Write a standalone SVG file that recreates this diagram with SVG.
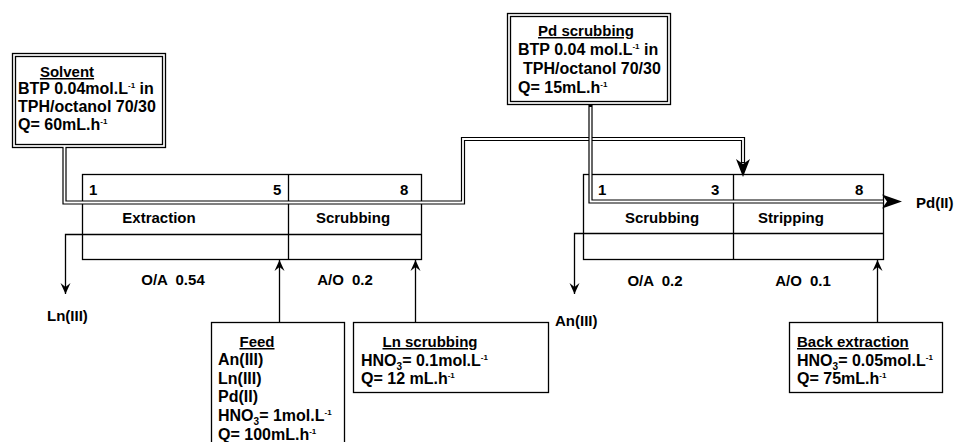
<svg xmlns="http://www.w3.org/2000/svg" width="956" height="442" viewBox="0 0 956 442">
<defs>
<style>
text{font-family:"Liberation Sans",Arial,sans-serif;font-weight:bold;font-size:15px;fill:#000}
.b{font-size:16px}
.u{text-decoration:underline}
.m{text-anchor:middle}
.ws{word-spacing:4px}
.box{fill:#fff;stroke:#000;stroke-width:1.3}
.thin{fill:none;stroke:#000;stroke-width:1.3}
.dblo{fill:none;stroke:#000;stroke-width:4.2;stroke-linejoin:miter}
.dbli{fill:none;stroke:#fff;stroke-width:1.8;stroke-linejoin:miter}
.sup{font-size:8px}
.sub{font-size:10px}
</style>
<marker id="big" markerUnits="userSpaceOnUse" markerWidth="24" markerHeight="16" viewBox="-4 -8 24 16" refX="0" refY="0" orient="auto" overflow="visible">
<path d="M-2,-7 L18,0 L-2,7 L3,0 Z" fill="#000"/>
</marker>
<marker id="sm" markerUnits="userSpaceOnUse" markerWidth="14" markerHeight="12" viewBox="-12 -6 14 12" refX="0" refY="0" orient="auto" overflow="visible">
<path d="M0,0 L-11,-5 L-7,0 L-11,5 Z" fill="#000"/>
</marker>
</defs>
<rect width="956" height="442" fill="#fff"/>

<g id="settler-left">
<rect class="box" x="82.5" y="174.5" width="339" height="85"/>
<path class="thin" d="M288.5,174.5 V259.5 M82.5,234.5 H421.5"/>
<text x="89" y="195">1</text>
<text x="273" y="195">5</text>
<text x="400" y="195">8</text>
<text class="m" x="159" y="223">Extraction</text>
<text class="m" x="353" y="223">Scrubbing</text>
<text class="m ws" x="173" y="285">O/A 0.54</text>
<text class="m ws" x="345" y="285">A/O 0.2</text>
</g>

<g id="settler-right">
<rect class="box" x="583.5" y="174.5" width="300" height="85"/>
<path class="thin" d="M733.5,174.5 V259.5 M583.5,233.5 H883.5"/>
<text x="598" y="195">1</text>
<text x="711" y="195">3</text>
<text x="855" y="195">8</text>
<text class="m" x="662" y="223">Scrubbing</text>
<text class="m" x="791" y="223">Stripping</text>
<text class="m ws" x="655" y="286">O/A 0.2</text>
<text class="m ws" x="803" y="286">A/O 0.1</text>
</g>

<g id="solvent">
<rect class="box" x="12.5" y="53.5" width="153" height="94"/>
<rect class="thin" x="15.5" y="56.5" width="147" height="88"/>
<text class="m u" x="67" y="77">Solvent</text>
<text class="b" x="18" y="94">BTP 0.04mol.L<tspan class="sup" dy="-6">-1</tspan><tspan dy="6"> in</tspan></text>
<text class="b" x="18" y="112">TPH/octanol 70/30</text>
<text class="b" x="18" y="130">Q= 60mL.h<tspan class="sup" dy="-6">-1</tspan></text>
</g>

<g id="pd-scrubbing">
<rect class="box" x="507.5" y="13.5" width="163" height="91"/>
<rect class="thin" x="510.5" y="16.5" width="157" height="85"/>
<text class="m u" x="586" y="36">Pd scrubbing</text>
<text class="b" x="518" y="55">BTP 0.04 mol.L<tspan class="sup" dy="-6">-1</tspan><tspan dy="6"> in</tspan></text>
<text class="b" x="523" y="74">TPH/octanol 70/30</text>
<text class="b" x="518" y="93">Q= 15mL.h<tspan class="sup" dy="-6">-1</tspan></text>
</g>

<g id="feed">
<rect class="box" x="211.5" y="322.5" width="133" height="130"/>
<text class="m u" x="257" y="347">Feed</text>
<text class="b" x="218" y="365">An(III)</text>
<text class="b" x="218" y="384">Ln(III)</text>
<text class="b" x="218" y="402">Pd(II)</text>
<text class="b" x="218" y="421">HNO<tspan class="sub" dy="4">3</tspan><tspan dy="-4">= 1mol.L</tspan><tspan class="sup" dy="-6">-1</tspan></text>
<text class="b" x="218" y="440">Q= 100mL.h<tspan class="sup" dy="-6">-1</tspan></text>
</g>

<g id="ln-scrubbing">
<rect class="box" x="353.5" y="322.5" width="195" height="70"/>
<text class="m u" x="430" y="347">Ln scrubbing</text>
<text class="b" x="361" y="366">HNO<tspan class="sub" dy="4">3</tspan><tspan dy="-4">= 0.1mol.L</tspan><tspan class="sup" dy="-6">-1</tspan></text>
<text class="b" x="361" y="384">Q= 12 mL.h<tspan class="sup" dy="-6">-1</tspan></text>
</g>

<g id="back-extraction">
<rect class="box" x="789.5" y="322.5" width="153" height="70"/>
<text class="u" x="797" y="347">Back extraction</text>
<text class="b" x="797" y="366">HNO<tspan class="sub" dy="4">3</tspan><tspan dy="-4">= 0.05mol.L</tspan><tspan class="sup" dy="-6">-1</tspan></text>
<text class="b" x="797" y="384">Q= 75mL.h<tspan class="sup" dy="-6">-1</tspan></text>
</g>

<g id="outlets">
<text x="47" y="321">Ln(III)</text>
<text x="555" y="326">An(III)</text>
<text x="916" y="208">Pd(II)</text>
</g>

<g id="connectors">
<path class="dblo" d="M64.5,148 V202.5 H463 V139 H743 V163"/>
<path class="dbli" d="M64.5,146 V202.5 H463 V139 H743 V162"/>
<path d="M743,177 L736,159 L743,164 L750,159 Z" fill="#000"/>
<path class="dblo" d="M590.5,105 V201.5 H884" marker-end="url(#big)"/>
<path class="dbli" d="M590.5,107 V201.5 H883"/>
<path class="thin" d="M82.5,234.5 H65.5 V294" marker-end="url(#sm)"/>
<path class="thin" d="M583.5,233.5 H574.5 V294" marker-end="url(#sm)"/>
<path class="thin" d="M279.5,322 V260" marker-end="url(#sm)"/>
<path class="thin" d="M415.5,322 V260" marker-end="url(#sm)"/>
<path class="thin" d="M877.5,322 V260" marker-end="url(#sm)"/>
</g>
</svg>
